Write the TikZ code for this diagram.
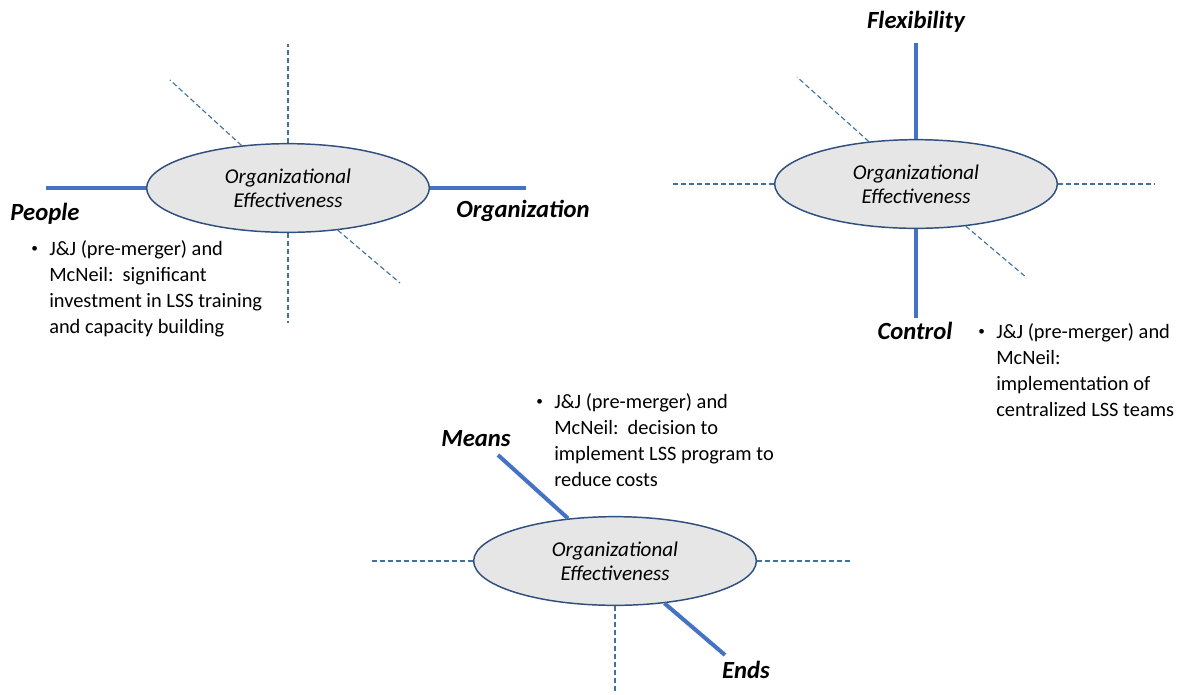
\documentclass[tikz,border=0pt]{standalone}
\usepackage{fontspec}
\setmainfont{Carlito}
\usetikzlibrary{shapes.geometric}

\definecolor{axisblue}{HTML}{4472C4}
\definecolor{dashblue}{HTML}{41719C}
\definecolor{ovalline}{HTML}{2F4F7F}
\definecolor{ovalfill}{HTML}{E6E6E6}

\tikzset{
  oval/.style={ellipse, draw=ovalline, line width=1.1pt, fill=ovalfill,
    minimum width=212pt, minimum height=66.5pt, inner sep=0pt, align=center,
    font=\fontsize{15.8}{18}\selectfont\itshape},
  mainaxis/.style={draw=axisblue, line width=3pt},
  sideaxis/.style={draw=dashblue, line width=0.85pt, dash pattern=on 3.75pt off 2.25pt},
  pole/.style={font=\fontsize{18.5}{22}\selectfont\bfseries\itshape, inner sep=0pt},
  note/.style={anchor=north west, inner sep=0pt, align=left,
    font=\fontsize{15.3}{19.5}\selectfont}
}
\newcommand{\bulletline}[1]{\makebox[13.5pt][l]{\raisebox{0.12em}{\scalebox{0.65}{\textbullet}}}#1}
\newcommand{\hangline}[1]{\hspace*{13.5pt}#1}

\begin{document}
\begin{tikzpicture}[x=0.75pt,y=-0.75pt]
  \useasboundingbox (0,0) rectangle (1190,694);

  % --- People / Organization ---
  \node[oval] (e1) at (288,188) {Organizational\\Effectiveness};
  \coordinate (e1w) at (46,188);
  \coordinate (e1e) at (526,188);
  \coordinate (e1n) at (288,44);
  \coordinate (e1s) at (288,323);
  \coordinate (e1nw) at (170,80);
  \coordinate (e1se) at (400,283);
  \draw[sideaxis] (e1) -- (e1n);
  \draw[sideaxis] (e1) -- (e1s);
  \draw[sideaxis] (e1) -- (e1nw);
  \draw[sideaxis] (e1) -- (e1se);
  \draw[mainaxis] (e1) -- (e1w);
  \draw[mainaxis] (e1) -- (e1e);
  \node[pole] (people) at (45,214) {People};
  \node[pole] (org) at (523,211) {Organization};
  \node[note] (n1) at (31,240) {%
    \bulletline{J\&J (pre-merger) and}\\
    \hangline{McNeil:\ \ significant}\\
    \hangline{investment in LSS training}\\
    \hangline{and capacity building}};

  % --- Flexibility / Control ---
  \node[oval] (e2) at (916,184) {Organizational\\Effectiveness};
  \coordinate (e2n) at (916,43);
  \coordinate (e2s) at (916,318);
  \coordinate (e2w) at (673,184);
  \coordinate (e2e) at (1155,184);
  \coordinate (e2nw) at (797,77);
  \coordinate (e2se) at (1027,278);
  \draw[sideaxis] (e2) -- (e2w);
  \draw[sideaxis] (e2) -- (e2e);
  \draw[sideaxis] (e2) -- (e2nw);
  \draw[sideaxis] (e2) -- (e2se);
  \draw[mainaxis] (e2) -- (e2n);
  \draw[mainaxis] (e2) -- (e2s);
  \node[pole] (flex) at (916,22) {Flexibility};
  \node[pole] (ctrl) at (915,331) {Control};
  \node[note] (n2) at (978,323) {%
    \bulletline{J\&J (pre-merger) and}\\
    \hangline{McNeil:}\\
    \hangline{implementation of}\\
    \hangline{centralized LSS teams}};

  % --- Means / Ends ---
  \node[oval] (e3) at (615,561) {Organizational\\Effectiveness};
  \coordinate (e3nw) at (498,455);
  \coordinate (e3se) at (725,655);
  \coordinate (e3w) at (372,561);
  \coordinate (e3e) at (852,561);
  \coordinate (e3s) at (615,694);
  \draw[sideaxis] (e3) -- (e3w);
  \draw[sideaxis] (e3) -- (e3e);
  \draw[sideaxis] (e3) -- (e3s);
  \draw[mainaxis] (e3) -- (e3nw);
  \draw[mainaxis] (e3) -- (e3se);
  \node[pole] (means) at (476,439) {Means};
  \node[pole] (ends) at (746,670) {Ends};
  \node[note] (n3) at (536,393) {%
    \bulletline{J\&J (pre-merger) and}\\
    \hangline{McNeil:\ \ decision to}\\
    \hangline{implement LSS program to}\\
    \hangline{reduce costs}};
\end{tikzpicture}
\end{document}
